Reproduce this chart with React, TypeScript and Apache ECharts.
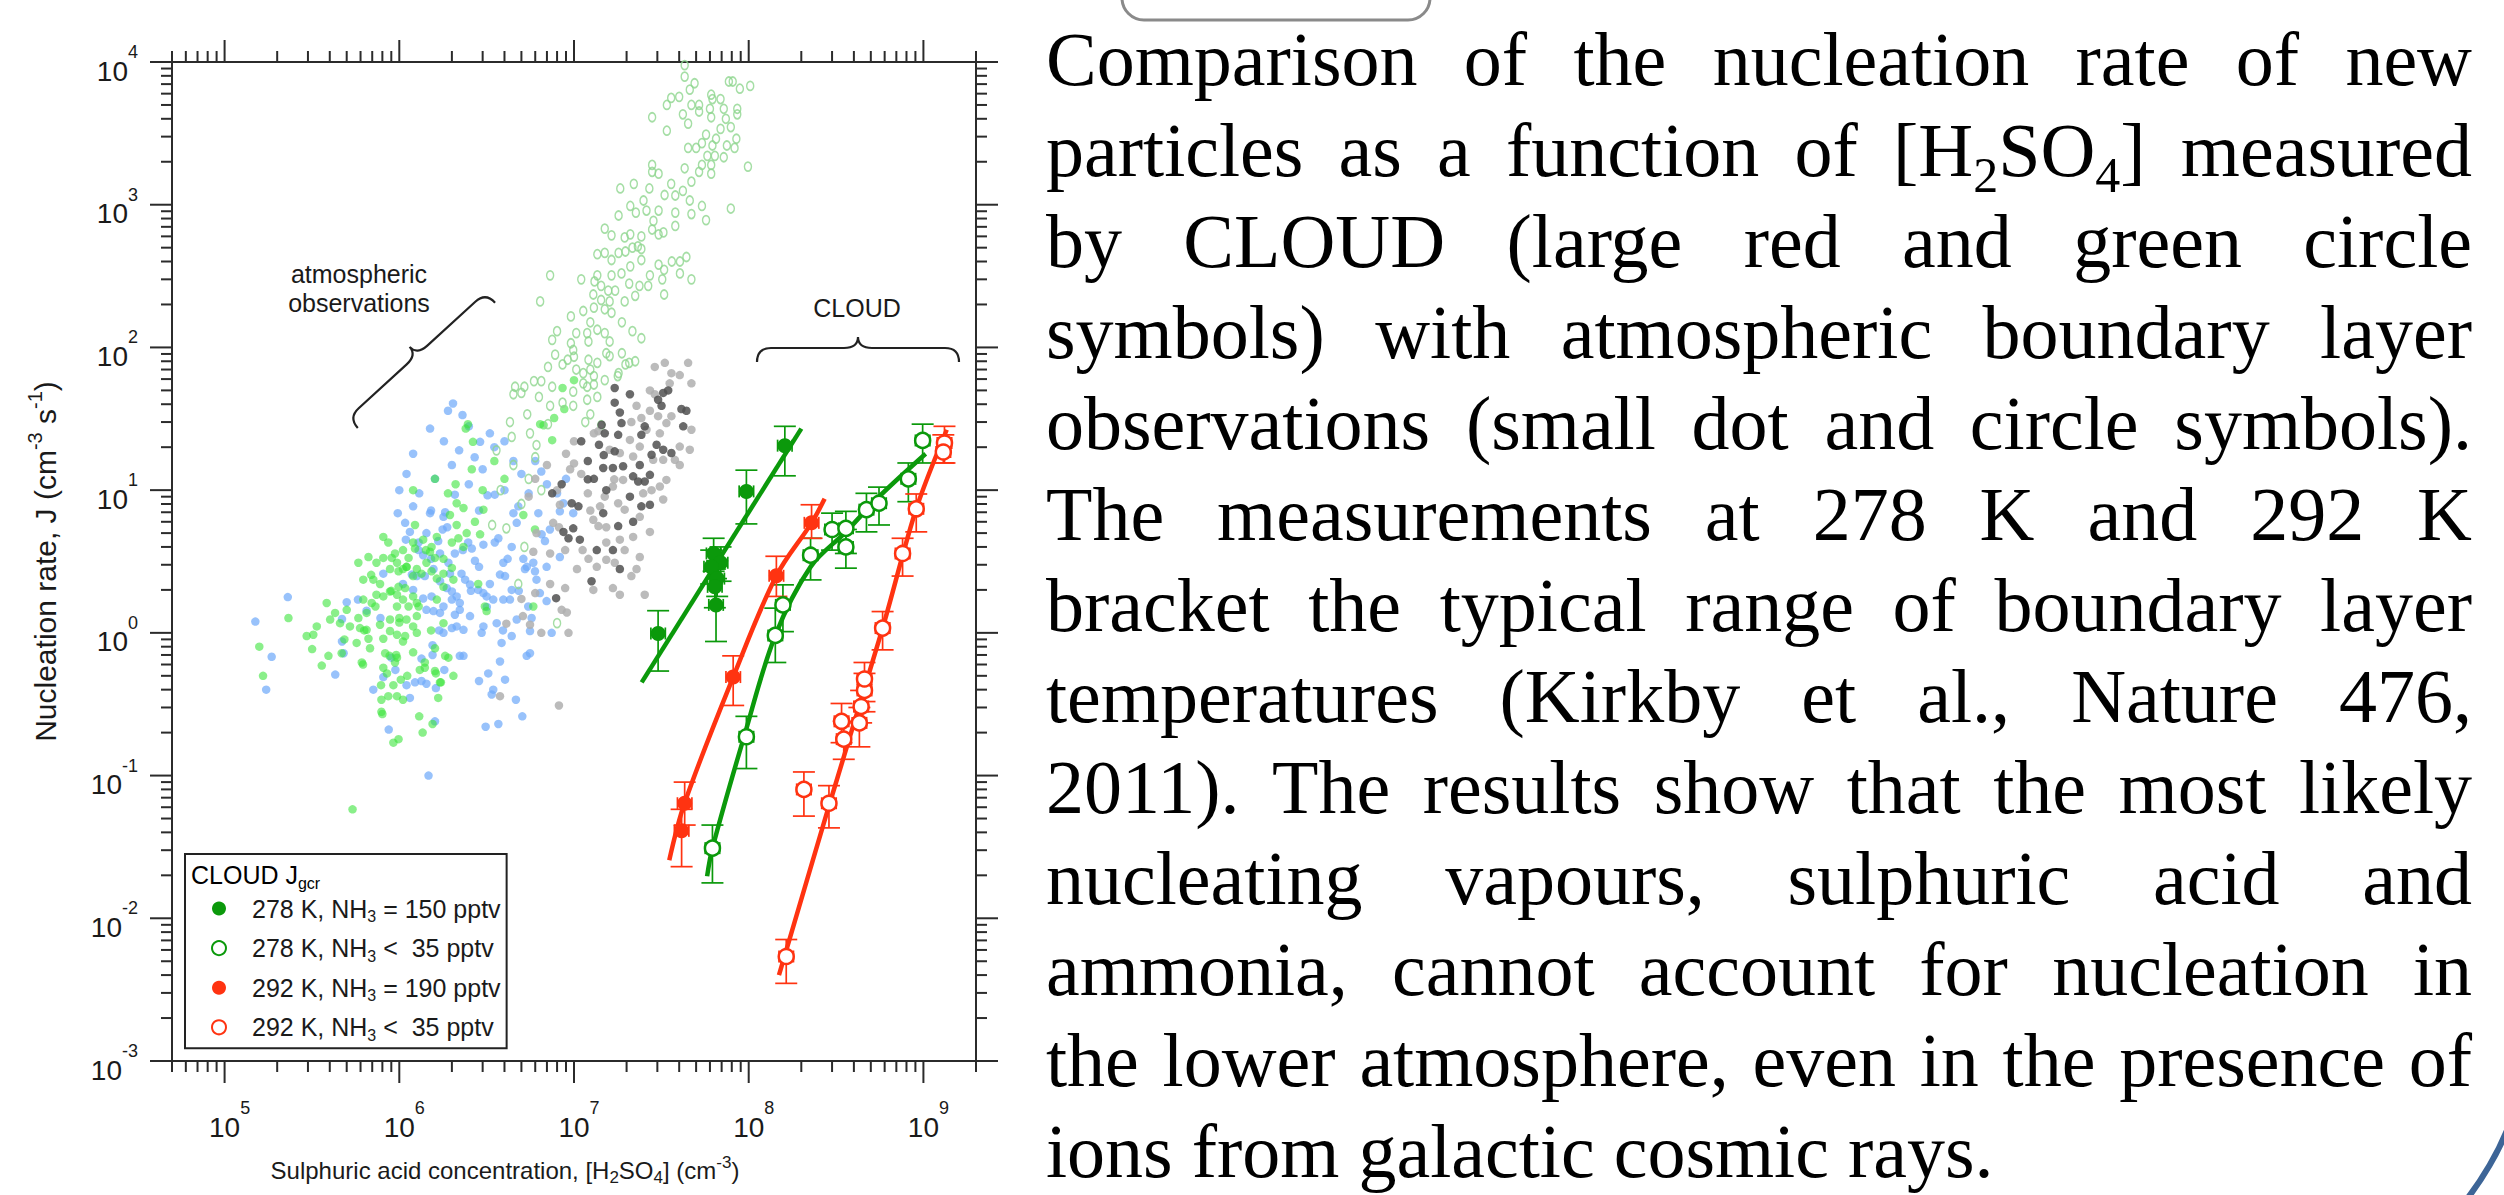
import React, { useEffect, useRef } from "react";
import * as echarts from "echarts";

// ---------- axis ranges ----------
const X_MIN = 5e4;
const X_MAX = 2e9;
const Y_MIN = 1e-3;
const Y_MAX = 1e4;

// ---------- atmospheric observations [H2SO4 cm^-3, J cm^-3 s^-1] ----------
const BLUE_OBS: number[][] = [
  [2.3e5, 1.78], [1.5e5, 1.2], [1.86e5, 0.68], [1.73e5, 0.4], [4.3e5, 0.51], [5.0e5, 1.64], [4.7e5, 1.25], [5.8e5, 1.71],
  [6.5e5, 1.43], [4.7e5, 0.87], [4.8e5, 0.72], [7.8e5, 1.27], [8.1e5, 2.6], [7.1e5, 0.4], [8.1e5, 0.49], [9.0e5, 0.67],
  [9.5e5, 0.55], [1.15e6, 0.35], [8.7e5, 0.21], [1.47e6, 0.1], [1.6e6, 0.24], [1.55e6, 0.82], [1.34e6, 0.66], [1.55e6, 0.7],
  [1.81e6, 0.55], [1.62e6, 0.41], [1.23e6, 0.45], [1.34e6, 0.46], [1.43e6, 0.44], [1.1e6, 0.43], [9.8e5, 6.9], [1.08e6, 5.9],
  [1.2e6, 7.7], [1.5e6, 6.9], [1.79e6, 6.5], [1.83e6, 7.0], [1.77e6, 5.3], [1.15e6, 5.1], [1.09e6, 4.5], [1.29e6, 3.8],
  [1.43e6, 5.0], [1.67e6, 4.4], [1.71e6, 3.6], [1.91e6, 3.1], [2.08e6, 3.6], [1.95e6, 2.6], [2.27e6, 2.6], [2.48e6, 4.3],
  [2.6e6, 3.9], [2.71e6, 3.2], [2.38e6, 2.36], [2.54e6, 2.18], [2.83e6, 2.0], [3.03e6, 1.9], [3.3e6, 2.2], [3.16e6, 1.8],
  [3.45e6, 1.71], [3.77e6, 2.56], [3.94e6, 3.1], [4.4e6, 4.0], [3.69e6, 4.6], [4.7e6, 5.9], [4.5e6, 6.9], [4.8e6, 7.7],
  [6.25e6, 6.9], [5.13e6, 3.3], [5.24e6, 2.8], [5.85e6, 3.1], [5.98e6, 2.7], [6.1e6, 2.36], [5.47e6, 1.53], [6.38e6, 1.9],
  [6.97e6, 2.9], [6.97e6, 1.67], [7.28e6, 5.3], [6.53e6, 4.9], [6.82e6, 4.4], [8.3e6, 3.4], [8.69e6, 8.1], [9.9e6, 6.9],
  [8.3e6, 7.1], [4.4e6, 2.0], [4.3e6, 1.71], [3.94e6, 1.71], [4.7e6, 1.24], [5.72e6, 1.27], [4.4e6, 0.95], [3.85e6, 0.85],
  [3.61e6, 1.17], [3.03e6, 1.11], [2.96e6, 1.0], [2.54e6, 1.31], [2.33e6, 1.05], [2.13e6, 1.11], [2.0e6, 1.08], [1.79e6, 1.0],
  [1.71e6, 1.38], [1.57e6, 1.42], [1.79e6, 1.53], [2.0e6, 1.71], [2.22e6, 1.45], [2.22e6, 1.62], [1.53e6, 1.8], [1.43e6, 1.45],
  [1.4e6, 2.5], [1.26e6, 2.5], [1.05e6, 2.2], [1.2e6, 2.0], [1.71e6, 2.3], [1.87e6, 2.06], [1.57e6, 2.8], [1.37e6, 3.5],
  [2.0e6, 1.95], [2.13e6, 1.8], [3.03e6, 4.15], [5.36e6, 0.69], [5.6e6, 0.72], [3.77e6, 0.63], [3.23e6, 0.52], [2.86e6, 0.46],
  [4.03e6, 0.47], [3.45e6, 0.4], [3.38e6, 0.37], [4.65e6, 0.34], [5.06e6, 0.26], [3.12e6, 0.22], [3.69e6, 0.23], [7.45e6, 1.0],
  [5.6e6, 1.03], [2.33e6, 0.69], [2.22e6, 0.69], [4.03e6, 2.5],
  [2.03e6, 40.5], [2.3e6, 33.6], [2.9e6, 21.8], [1.9e6, 36], [2.5e6, 28], [1.5e6, 27], [3.5e6, 20], [4.0e6, 22],
  [1.2e6, 18], [2.0e6, 15], [3.0e6, 14], [5.0e6, 13], [6.0e6, 16], [2.5e6, 11], [1.6e6, 12], [4.0e6, 10],
  [7.0e6, 11], [1.0e6, 10], [9.0e6, 12], [1.3e6, 9.5], [3.2e6, 9.2], [5.5e6, 9.5], [2.2e6, 19], [3.3e6, 25],
  [1.1e6, 13], [1.8e6, 22], [2.7e6, 17], [4.5e6, 16], [6.5e6, 13.5], [8.0e6, 9.5],
  [1.29e6, 4.3], [1.52e6, 3.3], [1.88e6, 5.5], [2.31e6, 3.8], [2.86e6, 2.9], [3.52e6, 4.3], [4.17e6, 3.3], [2.57e6, 1.97],
  [3.17e6, 1.52], [2.08e6, 1.34], [1.69e6, 1.04], [3.92e6, 1.04], [4.83e6, 1.97], [5.37e6, 2.9], [2.86e6, 7.2], [3.52e6, 9.3],
  [2.08e6, 9.3], [1.52e6, 7.2], [1.18e6, 2.56], [1.37e6, 1.74],
];

const GREEN_OBS: number[][] = [
  [5.4e5, 0.058], [9.25e5, 0.17], [9.9e5, 0.18], [1.36e6, 0.2], [1.55e6, 0.23], [7.9e5, 0.28], [8.0e5, 0.27], [7.9e5, 0.34],
  [8.65e5, 0.36], [9.7e5, 0.36], [1.3e6, 0.26], [1.67e6, 0.35], [1.71e6, 0.45], [2.04e6, 0.5], [1.4e6, 0.57], [1.6e6, 0.54],
  [1.11e6, 0.5], [1.02e6, 0.47], [9.25e5, 0.43], [7.86e5, 0.43], [9.45e5, 0.62], [9.7e5, 0.67], [8.8e5, 0.69], [6.2e5, 0.6],
  [6.1e5, 0.62], [3.6e5, 0.59], [3.93e5, 0.69], [3.17e5, 0.77], [4.68e5, 0.72], [4.85e5, 0.9], [5.7e5, 0.85], [6.66e5, 0.91],
  [6.8e5, 0.78], [8.3e5, 0.72], [1.08e6, 0.95], [1.2e6, 0.73], [1.05e6, 0.87], [1.26e6, 1.0], [9.7e5, 0.97], [8.85e5, 1.03],
  [1.0e6, 1.27], [8.85e5, 1.24], [7.76e5, 1.14], [6.5e5, 1.05], [5.96e5, 1.08], [5.22e5, 1.11], [4.58e5, 1.17], [4.02e5, 1.24],
  [3.84e5, 1.62], [4.29e5, 1.38], [3.37e5, 1.11], [2.95e5, 0.95], [3.22e5, 0.97], [2.32e5, 1.27], [1.58e5, 0.8], [1.66e5, 0.5],
  [5.0e5, 1.45], [5.83e5, 1.27], [6.5e5, 1.38], [6.22e5, 1.71], [6.95e5, 1.62], [7.4e5, 1.85], [8.1e5, 1.8], [8.85e5, 1.95],
  [9.7e5, 1.85], [9.9e5, 2.1], [1.08e6, 2.06], [1.2e6, 1.8], [1.26e6, 1.62], [1.13e6, 1.53], [9.7e5, 1.53], [1.1e6, 1.24],
  [1.26e6, 1.31], [1.05e6, 1.71], [7.76e5, 2.2], [7.1e5, 2.36], [6.22e5, 2.36], [5.83e5, 3.1], [6.66e5, 3.4], [7.4e5, 3.1],
  [8.1e5, 3.35], [9.05e5, 3.35], [9.7e5, 3.1], [9.9e5, 2.7], [8.85e5, 2.8], [1.05e6, 2.8], [1.1e6, 2.9], [8.1e5, 4.7],
  [8.65e5, 4.3], [9.45e5, 3.6], [1.05e6, 3.8], [1.23e6, 5.7], [1.13e6, 3.35], [1.2e6, 4.3], [1.37e6, 4.5], [1.5e6, 3.7],
  [1.6e6, 3.35], [1.43e6, 3.1], [1.53e6, 2.7], [1.34e6, 2.6], [1.2e6, 2.5], [1.26e6, 2.8], [1.79e6, 3.3], [1.79e6, 2.6],
  [1.64e6, 2.4], [1.79e6, 2.1], [2.04e6, 2.36], [2.0e6, 2.85], [2.33e6, 4.0], [2.18e6, 4.6], [2.13e6, 5.7], [2.43e6, 5.0],
  [2.71e6, 6.0], [2.9e6, 4.9], [3.03e6, 7.3], [2.33e6, 7.5], [2.13e6, 8.1], [1.95e6, 6.7], [1.64e6, 4.7], [3.09e6, 1.53],
  [3.16e6, 1.42], [1.79e6, 1.17], [1.6e6, 0.78], [1.83e6, 0.69], [1.91e6, 0.67], [1.62e6, 0.52], [1.73e6, 0.45], [1.31e6, 0.55],
  [1.4e6, 0.62], [1.42e6, 3.8], [1.53e6, 4.0], [1.23e6, 3.9], [5.13e6, 6.7], [5.85e6, 1.53], [5.98e6, 5.3], [2.83e6, 2.2],
  [2.0e6, 4.3], [8.1e5, 0.57], [8.5e5, 0.52], [1.05e6, 0.34], [1.2e6, 1.11], [1.64e6, 1.71],
  [1.2e6, 10], [1.6e6, 12], [2.1e6, 11], [2.6e6, 14], [1.9e6, 9.5], [3.0e6, 10], [2.47e6, 29], [2.4e6, 27],
  [2.64e6, 21.8], [8.6e6, 52], [1.0e7, 59], [8.8e6, 37], [7.7e6, 32], [6.4e6, 29], [6.7e6, 28.5], [7.5e6, 22.4],
  [4.0e6, 12], [3.5e6, 16],
  [7.3e5, 1.53], [9.0e5, 1.97], [1.0e6, 1.18], [8.1e5, 0.91], [1.1e6, 2.9], [6.3e5, 1.04], [1.29e6, 1.53], [1.52e6, 1.04],
  [9.6e5, 0.7], [6.9e5, 2.55],
];

const PALE_GREEN_OBS: number[][] = [
  [4.3e7, 9500], [4.3e7, 7900], [4.6e7, 6400], [4.9e7, 7100], [4.0e7, 5700], [3.6e7, 5600], [3.4e7, 5000], [2.8e7, 4100],
  [3.4e7, 3300], [4.2e7, 4300], [4.7e7, 5000], [5.2e7, 5000], [4.5e7, 3700], [5.2e7, 4500], [6.1e7, 5900], [6.2e7, 5500],
  [6.9e7, 5500], [7.2e7, 4700], [6.0e7, 4700], [6.1e7, 4100], [8.6e7, 4700], [8.9e7, 6500], [7.7e7, 7300], [8.1e7, 7300],
  [1.02e8, 6800], [8.6e7, 4300], [7.4e7, 4000], [7.9e7, 3500], [6.9e7, 3400], [5.7e7, 3100], [6.5e7, 2900], [8.5e7, 2900],
  [7.5e7, 2600], [6.2e7, 2600], [5.0e7, 2500], [4.5e7, 2500], [5.4e7, 2700], [5.8e7, 2200], [6.4e7, 2200], [8.3e7, 2500],
  [7.2e7, 2150], [5.4e7, 1900], [6.1e7, 1900], [6.1e7, 1650], [9.9e7, 1850], [4.3e7, 1800], [5.2e7, 1700], [4.7e7, 1450],
  [2.8e7, 1900], [2.8e7, 1700], [3.05e7, 1650], [3.6e7, 1400], [4.2e7, 1250], [3.3e7, 1170], [3.8e7, 1160], [4.6e7, 1070],
  [5.4e7, 980], [7.9e7, 940], [5.7e7, 780], [4.7e7, 860], [3.8e7, 880], [3.8e7, 710], [3.05e7, 910], [2.7e7, 1300],
  [2.2e7, 1400], [1.84e7, 1300], [1.8e7, 840], [2.1e7, 980], [2.26e7, 880], [2.5e7, 1070], [2.6e7, 910], [2.85e7, 770],
  [2.8e7, 670], [3.05e7, 620], [3.25e7, 640], [2.43e7, 600], [2.32e7, 510], [2.1e7, 620], [1.95e7, 590], [1.64e7, 610],
  [1.5e7, 680], [1.36e7, 450], [1.5e7, 460], [1.64e7, 410], [1.8e7, 460], [1.97e7, 470], [2.16e7, 500], [2.43e7, 490],
  [2.43e7, 410], [2.1e7, 370], [1.87e7, 330], [1.64e7, 320], [1.36e7, 320], [1.31e7, 290], [1.43e7, 270], [1.57e7, 250],
  [1.72e7, 250], [2.07e7, 280], [2.37e7, 270], [2.66e7, 270], [2.72e7, 320], [3.05e7, 380], [3.28e7, 350], [3.63e7, 400],
  [4.04e7, 400], [4.4e7, 430], [4.04e7, 330], [4.7e7, 300], [3.2e7, 300], [3.28e7, 235], [1.29e7, 235], [1.43e7, 215],
  [1.6e7, 210], [1.95e7, 210], [2.24e7, 230], [1.1e7, 300], [7.3e6, 320], [6.4e6, 210], [9.6e6, 165], [1.13e7, 180],
  [1.3e7, 190], [1.5e7, 185], [1.64e7, 175], [1.24e7, 150], [1.36e7, 133], [1.5e7, 126], [1.19e7, 126], [1.03e7, 126],
  [8.0e6, 130], [7.5e6, 113], [9.6e6, 107], [9.9e6, 96], [1.21e7, 110], [1.6e7, 110], [1.53e7, 91], [1.88e7, 150],
  [2.16e7, 130], [2.43e7, 116], [7.8e6, 89], [9.2e6, 82], [1.0e7, 86], [1.21e7, 82], [1.36e7, 78], [1.6e7, 87],
  [1.88e7, 91], [2.07e7, 78], [2.24e7, 80], [7.1e6, 73], [8.6e6, 76], [1.03e7, 70], [1.13e7, 66], [1.24e7, 70],
  [1.3e7, 63], [1.13e7, 56], [1.5e7, 59], [1.8e7, 66], [1.97e7, 76], [5.9e6, 58], [5.2e6, 53], [4.6e6, 53],
  [5.0e6, 48], [6.5e6, 58], [7.5e6, 53], [9.9e6, 49], [1.19e7, 53], [1.3e7, 55], [1.78e7, 63], [6.3e6, 45],
  [7.3e6, 39], [8.6e6, 41], [9.9e6, 39], [1.19e7, 43], [1.36e7, 45], [5.4e6, 34], [4.3e6, 30], [4.4e6, 23.6],
  [6.1e6, 20.7], [7.1e6, 29], [1.16e7, 30], [1.24e7, 34], [1.43e7, 28.5],
  [3.4e6, 5.7], [4.1e6, 5.4], [5.2e6, 4.0], [4.8e6, 2.2], [8.0e6, 1.17], [4.5e6, 15], [5.5e6, 12], [6.0e6, 17],
  [3.8e6, 10], [5.0e6, 8], [6.5e6, 10], [4.5e6, 47], [3.6e6, 19], [5.6e6, 25],
];

const LIGHT_GRAY_OBS: number[][] = [
  [2.9e7, 73], [3.31e7, 78], [3.61e7, 66], [4.03e7, 64], [4.5e7, 78], [4.7e7, 56], [3.53e7, 56], [2.72e7, 50],
  [2.9e7, 47], [2.28e7, 39], [2.43e7, 32], [2.13e7, 30], [2.72e7, 36], [3.03e7, 33], [3.61e7, 33], [2.6e7, 26.5],
  [3.38e7, 29.5], [4.7e7, 26.5], [3.1e7, 25], [2.38e7, 20.2], [2.09e7, 22.5], [4.03e7, 20.2], [4.6e7, 19.2], [3.78e7, 16.3],
  [3.24e7, 16.3], [2.84e7, 16.3], [4.03e7, 15], [2.18e7, 17.2], [1.83e7, 18.2], [1.6e7, 19.2], [3.38e7, 11.8], [3.1e7, 10.6],
  [2.78e7, 10], [2.49e7, 9.5], [3.24e7, 8.6], [1.91e7, 11.8], [1.67e7, 10.6], [1.5e7, 9.0], [1.79e7, 8.1], [1.41e7, 7.7],
  [1.95e7, 7.3], [2.38e7, 6.5], [2.72e7, 5.1], [2.18e7, 4.7], [1.83e7, 4.5], [1.53e7, 4.3], [1.95e7, 3.8], [1.53e7, 3.25],
  [1.71e7, 3.1], [2.38e7, 3.4], [2.28e7, 2.8], [1.67e7, 2.06], [1.83e7, 1.85], [2.54e7, 1.85], [2.13e7, 2.5],
  [7.6e6, 5.9], [8.3e6, 7.9], [1.29e7, 6.2], [1.38e7, 5.6], [6.1e6, 5.0], [5.85e6, 3.7], [7.3e6, 3.6], [8.9e6, 3.8],
  [1.21e7, 3.3], [1.04e7, 2.8], [1.35e7, 2.9], [7.3e6, 2.2], [8.9e6, 2.06], [1.29e7, 2.0], [5.0e6, 1.73], [6.0e6, 1.9],
  [4.1e6, 1.16], [5.1e6, 1.31], [5.6e6, 1.14], [6.5e6, 1.0], [9.3e6, 1.0], [8.5e6, 1.45], [9.1e6, 1.39], [3.77e6, 0.36],
  [8.2e6, 0.31],
  [6.0e6, 12], [7.0e6, 15], [8.0e6, 10], [9.0e6, 18], [1.1e7, 13], [1.2e7, 9.5], [5.5e6, 9], [1.0e7, 22],
  [1.3e7, 25], [9.5e6, 14], [1.0e7, 15.4], [1.24e7, 7.2], [1.53e7, 5.5], [1.12e7, 3.8], [8.2e6, 5.5], [1.7e7, 11.9],
  [1.38e7, 25.9],
];

const DARK_GRAY_OBS: number[][] = [
  [1.71e7, 52], [2.09e7, 47], [1.71e7, 41], [1.83e7, 35], [1.44e7, 28.7], [1.5e7, 25], [1.87e7, 29.5], [2.54e7, 28],
  [3.03e7, 43], [3.24e7, 48], [3.46e7, 50], [3.17e7, 39], [4.12e7, 37], [4.4e7, 36], [4.22e7, 28], [2.43e7, 24.4],
  [1.79e7, 24.4], [1.71e7, 18.7], [1.91e7, 14.7], [1.67e7, 14.3], [1.47e7, 14.3], [2.38e7, 15], [2.97e7, 20.8], [3.24e7, 19.2],
  [3.61e7, 18.2], [2.78e7, 17.7], [2.18e7, 12.5], [2.33e7, 11.5], [2.54e7, 11.5], [2.72e7, 12.8], [1.53e7, 10], [2.09e7, 9],
  [2.72e7, 7.9], [2.43e7, 7.7], [2.18e7, 6], [1.47e7, 6.9], [1.79e7, 5.6], [1.67e7, 3.8], [1.83e7, 2.8],
  [1.06e7, 7.7], [8.7e6, 5.1], [9.9e6, 5.4], [9.3e6, 4.6], [1.08e7, 4.5], [1.35e7, 3.8], [1.26e7, 2.3], [7.9e6, 1.75],
  [8.5e6, 11], [1.2e7, 16], [7.5e6, 9.5], [1.1e7, 22], [1.3e7, 12], [1.39e7, 20.8], [1.2e7, 11.9], [1.48e7, 17.6],
  [9.7e6, 8.1],
];

// ---------- CLOUD measurements: [H2SO4, J, J low, J high] ----------
const CLOUD_278_NH3: number[][] = [
  [3.03e7, 0.99, 0.54, 1.43], [6.3e7, 3.6, 2.7, 4.6], [6.9e7, 3.1, 2.3, 4.0], [6.1e7, 2.9, 2.2, 3.8],
  [6.6e7, 2.4, 1.8, 3.2], [6.4e7, 2.1, 1.5, 2.8], [6.5e7, 1.57, 0.87, 2.4], [9.7e7, 9.8, 5.8, 13.8],
  [1.61e8, 20.5, 12.6, 28],
];
const CLOUD_278_LOW: number[][] = [
  [6.2e7, 0.031, 0.0177, 0.045], [9.7e7, 0.187, 0.112, 0.26], [1.42e8, 0.96, 0.62, 1.49], [1.57e8, 1.57, 1.02, 2.17],
  [2.26e8, 3.5, 2.35, 4.6], [3.0e8, 5.3, 3.8, 6.9], [3.6e8, 5.4, 3.6, 7.1], [3.6e8, 4.0, 2.84, 5.3],
  [4.72e8, 7.3, 5.1, 9.5], [5.57e8, 8.1, 5.7, 10.5], [8.2e8, 12, 8.3, 15.5], [9.9e8, 22.3, 15.5, 29],
];
const CLOUD_292_NH3: number[][] = [
  [4.3e7, 0.064, 0.045, 0.09], [4.13e7, 0.041, 0.023, 0.058], [8.15e7, 0.49, 0.31, 0.69], [1.44e8, 2.51, 1.8, 3.44],
  [2.29e8, 5.9, 4.6, 7.9],
];
const CLOUD_292_LOW: number[][] = [
  [1.64e8, 0.0054, 0.0035, 0.0071], [2.07e8, 0.08, 0.052, 0.106], [2.88e8, 0.064, 0.043, 0.085], [3.4e8, 0.24, 0.17, 0.32],
  [3.5e8, 0.18, 0.13, 0.24], [4.3e8, 0.234, 0.159, 0.3], [4.4e8, 0.305, 0.234, 0.395], [4.6e8, 0.395, 0.28, 0.52],
  [4.6e8, 0.475, 0.33, 0.62], [5.84e8, 1.08, 0.76, 1.41], [7.6e8, 3.6, 2.5, 4.6], [9.1e8, 7.4, 5.1, 9.4],
  [1.32e9, 21.4, 15.5, 28], [1.3e9, 18.5, 15.5, 24.4],
];
const X_REL_ERR = 1.1; // relative [H2SO4] uncertainty drawn as horizontal bars

// ---------- fitted curves ----------
const FIT_278_NH3: number[][] = [[2.44e7, 0.45], [2.0e8, 27]];
const FIT_278_LOW: number[][] = [
  [5.78e7, 0.0197], [6.2e7, 0.031], [9.4e7, 0.187], [1.42e8, 0.96], [2.26e8, 2.9], [3.6e8, 5.1], [5.57e8, 9.0], [1.03e9, 18],
];
const FIT_292_NH3: number[][] = [
  [3.51e7, 0.0255], [4.3e7, 0.0644], [8.15e7, 0.49], [1.44e8, 2.51], [2.29e8, 5.9], [2.72e8, 8.7],
];
const FIT_292_LOW: number[][] = [[1.49e8, 0.004], [2.91e8, 0.064], [5.84e8, 1.08], [9.1e8, 7.4], [1.36e9, 26.5]];

const LEGEND_NAMES = [
  "278 K, NH3 = 150 pptv",
  "278 K, NH3 <  35 pptv",
  "292 K, NH3 = 190 pptv",
  "292 K, NH3 <  35 pptv",
];

const PARA_LINES = [
  "Comparison of the nucleation rate of new",
  "particles as a function of [H2SO4] measured",
  "by CLOUD (large red and green circle",
  "symbols) with atmospheric boundary layer",
  "observations (small dot and circle symbols).",
  "The measurements at 278 K and 292 K",
  "bracket the typical range of boundary layer",
  "temperatures (Kirkby et al., Nature 476,",
  "2011). The results show that the most likely",
  "nucleating vapours, sulphuric acid and",
  "ammonia, cannot account for nucleation in",
  "the lower atmosphere, even in the presence of",
  "ions from galactic cosmic rays.",
];

// ---------- styles ----------
const SANS = '"Liberation Sans", Arial, sans-serif';
const SERIF = '"Liberation Serif", "Times New Roman", serif';
const INK = "#1a1a1a";
const AXIS = "#2b2b2b";
const GREEN = "#0b990b";
const RED = "#ff3311";

const GRID = { left: 172, right: 976, top: 62, bottom: 1061 };

function powLabel(v: number): string {
  const l = Math.log10(v);
  const e = Math.round(l);
  if (Math.abs(l - e) > 1e-6) return "";
  return `{b|10}{s|${e}}`;
}

function buildTicks(): number[][] {
  const rows: number[][] = [];
  const mant = [1, 2, 3, 4, 5, 6, 7, 8, 9];
  for (let d = 4; d <= 9; d++) {
    for (const m of mant) {
      const v = m * Math.pow(10, d);
      if (v < X_MIN * 0.999 || v > X_MAX * 1.001) continue;
      rows.push([v, Y_MIN, 0, m === 1 ? 1 : 0]);
      rows.push([v, Y_MAX, 1, m === 1 ? 1 : 0]);
    }
  }
  for (let d = -3; d <= 4; d++) {
    for (const m of mant) {
      const v = m * Math.pow(10, d);
      if (v < Y_MIN * 0.999 || v > Y_MAX * 1.001) continue;
      rows.push([X_MIN, v, 2, m === 1 ? 1 : 0]);
      rows.push([X_MAX, v, 3, m === 1 ? 1 : 0]);
    }
  }
  return rows;
}

function errorBarSeries(data: number[][], color: string) {
  return {
    type: "custom",
    silent: true,
    clip: false,
    z: 3,
    encode: { x: 0, y: 1 },
    data,
    renderItem: (_p: any, api: any) => {
      const x = api.value(0);
      const y = api.value(1);
      const p = api.coord([x, y]);
      const lo = api.coord([x, api.value(2)]);
      const hi = api.coord([x, api.value(3)]);
      const xl = api.coord([x / X_REL_ERR, y]);
      const xh = api.coord([x * X_REL_ERR, y]);
      const st = { stroke: color, lineWidth: 1.7 };
      const cap = 11;
      const xcap = 6;
      return {
        type: "group",
        children: [
          { type: "line", shape: { x1: p[0], y1: hi[1], x2: p[0], y2: lo[1] }, style: st },
          { type: "line", shape: { x1: p[0] - cap, y1: hi[1], x2: p[0] + cap, y2: hi[1] }, style: st },
          { type: "line", shape: { x1: p[0] - cap, y1: lo[1], x2: p[0] + cap, y2: lo[1] }, style: st },
          { type: "line", shape: { x1: xl[0], y1: p[1], x2: xh[0], y2: p[1] }, style: st },
          { type: "line", shape: { x1: xl[0], y1: p[1] - xcap, x2: xl[0], y2: p[1] + xcap }, style: st },
          { type: "line", shape: { x1: xh[0], y1: p[1] - xcap, x2: xh[0], y2: p[1] + xcap }, style: st },
        ],
      };
    },
  };
}

function fitSeries(data: number[][], color: string, smooth: number) {
  return {
    type: "line",
    data,
    smooth,
    showSymbol: false,
    symbol: "none",
    silent: true,
    z: 4,
    lineStyle: { color, width: 4.5 },
  };
}

function markerSeries(name: string, data: number[][], color: string, hollow: boolean) {
  return {
    name,
    type: "scatter",
    data: data.map((r) => [r[0], r[1]]),
    symbol: "circle",
    symbolSize: 15,
    silent: true,
    z: 5,
    itemStyle: hollow
      ? { color: "#ffffff", borderColor: color, borderWidth: 2.5, opacity: 1 }
      : { color, opacity: 1 },
  };
}

function obsSeries(data: number[][], color: string, size: number) {
  return {
    type: "scatter",
    data,
    symbol: "circle",
    symbolSize: size,
    silent: true,
    z: 2,
    itemStyle: { color, opacity: 1 },
  };
}

let shapesRegistered = false;
function registerShapes() {
  if (shapesRegistered) return;
  shapesRegistered = true;
  const cloudBrace = echarts.graphic.extendPath(
    "M-101,14 Q-101,0 -87,0 L-14,0 Q0,0 0,-11 Q0,0 14,0 L87,0 Q101,0 101,14",
    {}
  );
  echarts.graphic.registerShape("cloudBrace", cloudBrace);
  const atmBrace = echarts.graphic.extendPath(
    "M-93,14 Q-93,0 -79,0 L-14,0 Q0,0 0,-11 Q0,0 14,0 L79,0 Q93,0 93,14",
    {}
  );
  echarts.graphic.registerShape("atmBrace", atmBrace);
}

function buildParagraph(): any[] {
  const FS = 76;
  const SUBFS = 50;
  const LEFT = 1046;
  const RIGHT = 2472;
  const BASE0 = 84;
  const PITCH = 91.0;
  const canvas = document.createElement("canvas");
  const ctx = canvas.getContext("2d") as CanvasRenderingContext2D;
  const measure = (s: string, size: number) => {
    ctx.font = `${size}px "Liberation Serif"`;
    return ctx.measureText(s).width;
  };
  const els: any[] = [];
  PARA_LINES.forEach((line, i) => {
    const words = line.split(" ");
    const widths = words.map((w) =>
      w === "[H2SO4]"
        ? measure("[H", FS) + measure("SO", FS) + measure("]", FS) + measure("2", SUBFS) + measure("4", SUBFS)
        : measure(w, FS)
    );
    const total = widths.reduce((a, b) => a + b, 0);
    const last = i === PARA_LINES.length - 1;
    const gap = last ? measure(" ", FS) : (RIGHT - LEFT - total) / (words.length - 1);
    let x = LEFT;
    const y = BASE0 + i * PITCH - 25;
    words.forEach((w, j) => {
      if (w === "[H2SO4]") {
        els.push({
          type: "text",
          x,
          y,
          silent: true,
          style: {
            text: "{n|[H}{s|2}{n|SO}{s|4}{n|]}",
            fill: "#000",
            verticalAlign: "middle",
            align: "left",
            rich: {
              n: { fontSize: FS, fontFamily: SERIF, color: "#000", lineHeight: 100, verticalAlign: "middle" },
              s: { fontSize: SUBFS, fontFamily: SERIF, color: "#000", padding: [50, 0, 0, 0], verticalAlign: "middle" },
            },
          },
        });
      } else {
        els.push({
          type: "text",
          x,
          y,
          silent: true,
          style: {
            text: w,
            fill: "#000",
            fontSize: FS,
            fontFamily: SERIF,
            verticalAlign: "middle",
            align: "left",
          },
        });
      }
      x += widths[j] + gap;
    });
  });
  return els;
}

function buildOption(): any {
  const labelRichX = {
    b: { fontSize: 28, fontFamily: SANS, color: INK, padding: [18, 0, 0, 10], verticalAlign: "middle" },
    s: { fontSize: 18, fontFamily: SANS, color: INK, padding: [0, 0, 20, 0], verticalAlign: "middle" },
  };
  const labelRichY = {
    b: { fontSize: 28, fontFamily: SANS, color: INK, padding: [18, 0, 0, 0], verticalAlign: "middle" },
    s: { fontSize: 18, fontFamily: SANS, color: INK, padding: [0, 0, 20, 0], verticalAlign: "middle" },
  };
  const xTitleRich = {
    n: { fontSize: 24, fontFamily: SANS, color: INK, lineHeight: 32, verticalAlign: "middle" },
    s: { fontSize: 17, fontFamily: SANS, color: INK, padding: [14, 0, 0, 0], verticalAlign: "middle" },
    p: { fontSize: 17, fontFamily: SANS, color: INK, padding: [0, 0, 16, 0], verticalAlign: "middle" },
  };
  const yTitleRich = {
    n: { fontSize: 30, fontFamily: SANS, color: INK, lineHeight: 42, verticalAlign: "middle" },
    p: { fontSize: 20, fontFamily: SANS, color: INK, padding: [0, 0, 21, 0], verticalAlign: "middle" },
  };
  const axisCommon = {
    type: "log",
    logBase: 10,
    axisTick: { show: false },
    minorTick: { show: false },
    splitLine: { show: false },
    minorSplitLine: { show: false },
    axisLine: { show: true, onZero: false, lineStyle: { color: AXIS, width: 2 } },
  };
  const ticks = buildTicks();

  return {
    animation: false,
    backgroundColor: "#ffffff",
    textStyle: { fontFamily: SANS },
    grid: {
      left: GRID.left,
      top: GRID.top,
      right: 2504 - GRID.right,
      bottom: 1195 - GRID.bottom,
      containLabel: false,
    },
    xAxis: [
      {
        ...axisCommon,
        min: X_MIN,
        max: X_MAX,
        position: "bottom",
        axisLabel: { show: true, margin: 34, formatter: powLabel, rich: labelRichX, hideOverlap: false },
        name: "{n|Sulphuric acid concentration, [H}{s|2}{n|SO}{s|4}{n|] (cm}{p|-3}{n|)}",
        nameLocation: "middle",
        nameGap: 93,
        nameTextStyle: { rich: xTitleRich, padding: [0, 138, 0, 0] },
      },
      {
        ...axisCommon,
        min: X_MIN,
        max: X_MAX,
        position: "top",
        axisLabel: { show: false },
      },
    ],
    yAxis: [
      {
        ...axisCommon,
        min: Y_MIN,
        max: Y_MAX,
        position: "left",
        axisLabel: { show: true, margin: 34, formatter: powLabel, rich: labelRichY, hideOverlap: false },
        name: "{n|Nucleation rate, J (cm}{p|-3}{n| s}{p|-1}{n|)}",
        nameLocation: "middle",
        nameRotate: 90,
        nameGap: 106,
        nameTextStyle: { rich: yTitleRich },
      },
      {
        ...axisCommon,
        min: Y_MIN,
        max: Y_MAX,
        position: "right",
        axisLabel: { show: false },
      },
    ],
    legend: {
      show: true,
      orient: "vertical",
      left: 185,
      top: 854,
      padding: [42, 6, 5, 26],
      itemGap: 11.1,
      itemWidth: 14,
      itemHeight: 14,
      borderColor: "#222",
      borderWidth: 2,
      borderRadius: 0,
      backgroundColor: "#ffffff",
      selectedMode: false,
      data: [
        { name: LEGEND_NAMES[0], icon: "circle", itemStyle: { color: GREEN } },
        { name: LEGEND_NAMES[1], icon: "circle", itemStyle: { color: "#ffffff", borderColor: GREEN, borderWidth: 2 } },
        { name: LEGEND_NAMES[2], icon: "circle", itemStyle: { color: RED } },
        { name: LEGEND_NAMES[3], icon: "circle", itemStyle: { color: "#ffffff", borderColor: RED, borderWidth: 2 } },
      ],
      formatter: (name: string) => {
        const parts = name.split("NH3");
        return `{f|${parts[0]}NH}{s|3}{n|${parts[1]}}`;
      },
      textStyle: {
        rich: {
          f: { fontSize: 25, fontFamily: SANS, color: INK, lineHeight: 32, padding: [0, 0, 0, 21], verticalAlign: "middle" },
          n: { fontSize: 25, fontFamily: SANS, color: INK, lineHeight: 32, verticalAlign: "middle" },
          s: { fontSize: 16, fontFamily: SANS, color: INK, padding: [16, 0, 0, 0], verticalAlign: "middle" },
        },
      },
    },
    graphic: {
      elements: [
        {
          type: "text",
          x: 191,
          y: 875,
          silent: true,
          z: 100,
          style: {
            text: "{a|CLOUD J}{b|gcr}",
            verticalAlign: "middle",
            align: "left",
            rich: {
              a: { fontSize: 25, fontFamily: SANS, color: INK, lineHeight: 32, verticalAlign: "middle" },
              b: { fontSize: 16, fontFamily: SANS, color: INK, padding: [16, 0, 0, 0], verticalAlign: "middle" },
            },
          },
        },
        {
          type: "text",
          x: 359,
          y: 288,
          silent: true,
          style: {
            text: "atmospheric\nobservations",
            fontSize: 25,
            fontFamily: SANS,
            fill: INK,
            lineHeight: 29,
            align: "center",
            verticalAlign: "middle",
          },
        },
        {
          type: "text",
          x: 857,
          y: 308,
          silent: true,
          style: { text: "CLOUD", fontSize: 25, fontFamily: SANS, fill: INK, align: "center", verticalAlign: "middle" },
        },
        {
          type: "cloudBrace",
          x: 858,
          y: 348,
          silent: true,
          style: { stroke: "#222", lineWidth: 2.2, fill: "none" },
        },
        {
          type: "atmBrace",
          x: 417,
          y: 355,
          rotation: 0.74,
          silent: true,
          style: { stroke: "#222", lineWidth: 2.2, fill: "none" },
        },
        {
          type: "rect",
          silent: true,
          shape: { x: 1122, y: -40, width: 308, height: 60, r: 22 },
          style: { stroke: "#8a8a8a", lineWidth: 3, fill: "none" },
        },
        {
          type: "arc",
          silent: true,
          shape: { cx: 2230, cy: 1015, r: 300, startAngle: 0.2, endAngle: 0.85, clockwise: true },
          style: { stroke: "#3d6597", lineWidth: 6, fill: "none" },
        },
        ...buildParagraph(),
      ],
    },
    series: [
      obsSeries(BLUE_OBS, "rgba(112,170,250,0.72)", 8.5),
      obsSeries(GREEN_OBS, "rgba(60,228,60,0.6)", 8.5),
      {
        type: "scatter",
        data: PALE_GREEN_OBS,
        symbol: "path://M50,0 A34,50 0 1,1 50,100 A34,50 0 1,1 50,0 Z",
        symbolSize: [7, 9],
        silent: true,
        z: 2,
        itemStyle: { color: "rgba(0,0,0,0)", borderColor: "#8fd68f", borderWidth: 1.6 },
      },
      obsSeries(LIGHT_GRAY_OBS, "rgba(175,175,175,0.85)", 8.5),
      obsSeries(DARK_GRAY_OBS, "rgba(80,80,80,0.85)", 8.5),
      errorBarSeries(CLOUD_278_NH3, GREEN),
      errorBarSeries(CLOUD_278_LOW, GREEN),
      errorBarSeries(CLOUD_292_NH3, RED),
      errorBarSeries(CLOUD_292_LOW, RED),
      fitSeries(FIT_278_NH3, GREEN, 0),
      fitSeries(FIT_278_LOW, GREEN, 0.35),
      fitSeries(FIT_292_NH3, RED, 0.35),
      fitSeries(FIT_292_LOW, RED, 0.3),
      markerSeries(LEGEND_NAMES[0], CLOUD_278_NH3, GREEN, false),
      markerSeries(LEGEND_NAMES[1], CLOUD_278_LOW, GREEN, true),
      markerSeries(LEGEND_NAMES[2], CLOUD_292_NH3, RED, false),
      markerSeries(LEGEND_NAMES[3], CLOUD_292_LOW, RED, true),
      {
        type: "custom",
        silent: true,
        clip: false,
        z: 10,
        encode: { x: 0, y: 1 },
        data: ticks,
        renderItem: (_p: any, api: any) => {
          const xv = api.value(0);
          const yv = api.value(1);
          const side = api.value(2);
          const len = api.value(3) ? 22 : 11;
          const p = api.coord([xv, yv]);
          let x2 = p[0];
          let y2 = p[1];
          if (side === 0) y2 = p[1] + len;
          else if (side === 1) y2 = p[1] - len;
          else if (side === 2) x2 = p[0] - len;
          else x2 = p[0] + len;
          return {
            type: "line",
            shape: { x1: p[0], y1: p[1], x2, y2 },
            style: { stroke: AXIS, lineWidth: 2 },
          };
        },
      },
    ],
  };
}

export default function App() {
  const ref = useRef<HTMLDivElement | null>(null);
  useEffect(() => {
    if (!ref.current) return;
    registerShapes();
    const chart = echarts.init(ref.current, undefined, { renderer: "svg" });
    chart.setOption(buildOption());
    return () => {
      chart.dispose();
    };
  }, []);
  return (
    <div
      ref={ref}
      style={{ position: "absolute", left: 0, top: 0, width: 2504, height: 1195, background: "#fff" }}
    />
  );
}
